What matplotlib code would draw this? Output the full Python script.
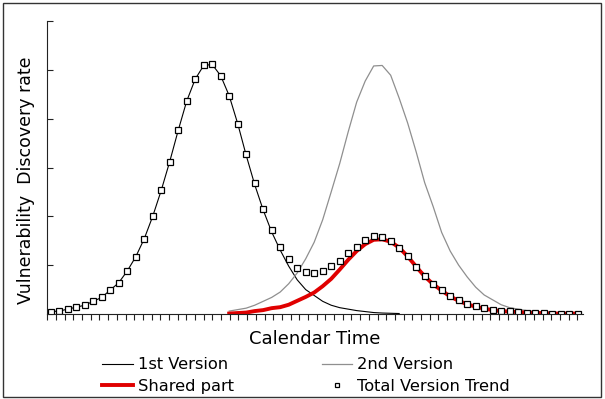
import numpy as np
import matplotlib
matplotlib.use("Agg")
import matplotlib.pyplot as plt
from matplotlib.patches import Rectangle

plt.rcParams['font.family'] = 'DejaVu Sans'

# category index (one per marker / curve vertex)
idx = np.arange(63)

# total trend (markers), i = 0..62
total = [0.05, 0.06, 0.10, 0.14, 0.18, 0.26, 0.34, 0.49, 0.64, 0.88,
         1.17, 1.54, 2.00, 2.53, 3.12, 3.76, 4.36, 4.81, 5.09, 5.11,
         4.88, 4.47, 3.90, 3.28, 2.69, 2.15, 1.72, 1.38, 1.13, 0.94,
         0.86, 0.83, 0.89, 0.98, 1.08, 1.24, 1.38, 1.52, 1.59, 1.57,
         1.50, 1.36, 1.18, 0.97, 0.78, 0.62, 0.49, 0.37, 0.28, 0.20,
         0.16, 0.12, 0.09, 0.07, 0.06, 0.04, 0.03, 0.03, 0.03, 0.01,
         0.01, 0.01, 0.01]

# 1st version, i = 0..41
first = [0.05, 0.06, 0.10, 0.14, 0.18, 0.26, 0.34, 0.49, 0.64, 0.88,
         1.17, 1.54, 2.00, 2.53, 3.12, 3.76, 4.36, 4.81, 5.09, 5.11,
         4.88, 4.47, 3.90, 3.25, 2.65, 2.13, 1.68, 1.31, 0.98, 0.70,
         0.50, 0.38, 0.26, 0.18, 0.13, 0.10, 0.07, 0.05, 0.03, 0.02,
         0.015, 0.01]

# 2nd version, i = 21..62
second = [0.06, 0.09, 0.12, 0.18, 0.26, 0.34, 0.45, 0.62, 0.84, 1.13,
          1.47, 1.93, 2.50, 3.08, 3.73, 4.34, 4.77, 5.08, 5.09, 4.89,
          4.42, 3.91, 3.32, 2.69, 2.20, 1.67, 1.29, 1.00, 0.76, 0.55,
          0.39, 0.29, 0.19, 0.13, 0.10, 0.07, 0.05, 0.03, 0.03, 0.02,
          0.02, 0.01]

# shared part, i = 21..62
shared = [0.01, 0.02, 0.03, 0.06, 0.08, 0.12, 0.14, 0.19, 0.27, 0.35,
          0.44, 0.57, 0.72, 0.91, 1.11, 1.29, 1.43, 1.52, 1.53, 1.48,
          1.36, 1.18, 0.97, 0.77, 0.61, 0.48, 0.36, 0.27, 0.20, 0.15,
          0.11, 0.08, 0.06, 0.05, 0.04, 0.03, 0.02, 0.02, 0.01, 0.01,
          0.01, 0.01]

fig = plt.figure(figsize=(6.05, 3.99), dpi=100)
ax = fig.add_axes([0.0782, 0.2130, 0.8849, 0.7343])

l1, = ax.plot(idx[:len(first)], first, color='black', lw=0.8, label='1st Version')
l2, = ax.plot(idx[21:], second, color='#8f8f8f', lw=0.9, label='2nd Version')
l3, = ax.plot(idx[21:], shared, color='#e00000', lw=2.8, label='Shared part')
l4, = ax.plot(idx, total, ls='none', marker='s', ms=4.8, mfc='white',
              mec='black', mew=0.9, label='Total Version Trend')

ax.set_xlim(-0.4, 62.59)
ax.set_ylim(0, 6)
ax.spines['top'].set_visible(False)
ax.spines['right'].set_visible(False)
for s in ['left', 'bottom']:
    ax.spines[s].set_linewidth(0.8)
    ax.spines[s].set_color('#222222')

ax.set_xticks(-0.4 + 1.0224 * np.arange(62))
ax.set_yticks(np.arange(0, 7, 1))
ax.tick_params(axis='x', direction='out', length=4, width=0.8, color='#222222',
               labelbottom=False)
ax.tick_params(axis='y', direction='in', length=4, width=0.8, color='#222222',
               labelleft=False)

fig.text(0.5207, (399 - 339.5) / 399, 'Calendar Time', ha='center', va='center',
         fontsize=13)
fig.text(26 / 605, (399 - 180) / 399, 'Vulnerability  Discovery rate', ha='center',
         va='center', rotation=90, fontsize=12.5)

fig.legend(handles=[l1, l3, l2, l4], ncol=2, loc='center',
           bbox_to_anchor=(306 / 605, (399 - 375.5) / 399), frameon=False,
           fontsize=11.7, handlelength=1.88, handletextpad=0.31,
           columnspacing=5.4, labelspacing=0.38, markerscale=0.75, borderpad=0)

fig.patches.append(Rectangle((3 / 605, 2 / 399), 598 / 605, 394 / 399,
                             transform=fig.transFigure, fill=False,
                             edgecolor='#333333', lw=1.0))

fig.savefig('out.png', dpi=100)
